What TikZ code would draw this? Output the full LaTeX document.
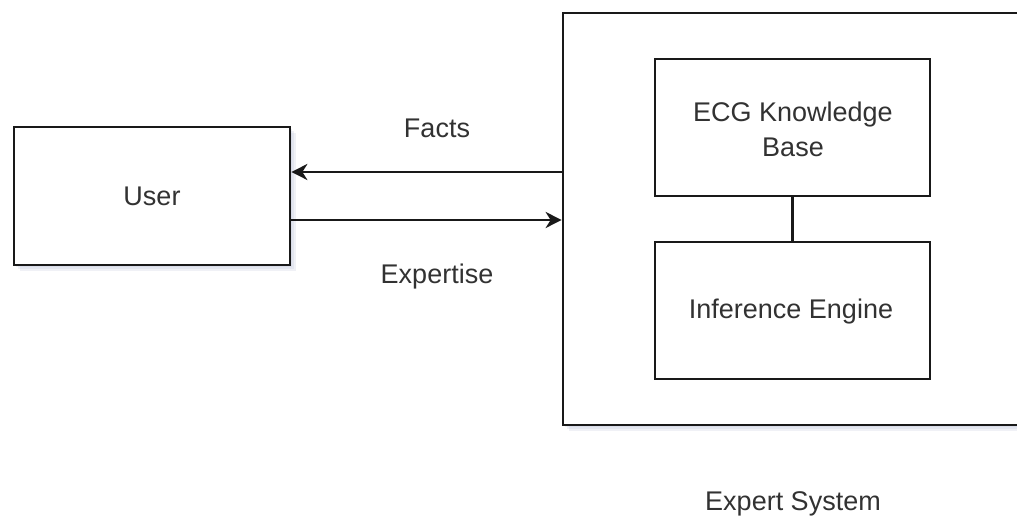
\documentclass[tikz,border=0pt]{standalone}
\usepackage{fontspec}
\setmainfont{Liberation Sans}
\usetikzlibrary{arrows.meta}
\definecolor{shadecol}{RGB}{170,178,205}
\definecolor{linecol}{RGB}{25,25,25}
\definecolor{txtcol}{RGB}{50,50,50}
\begin{document}
\begin{tikzpicture}[x=0.5pt,y=-0.5pt,
  box/.style={draw=linecol, line width=1.35pt, fill=white, inner sep=0pt, rectangle},
  lbl/.style={font=\fontsize{13.5}{17.5}\selectfont, text=txtcol, align=center},
  conn/.style={draw=linecol, line width=1.35pt},
  arr/.style={conn, -{Stealth[length=8pt,width=8pt,inset=2.5pt]}},
  shd/.style={fill=shadecol, opacity=0.18}]
\useasboundingbox (0,0) rectangle (1017,517);
\clip (0,0) rectangle (1017,517);
% shadows
\foreach \d in {2,4,6} {
  \fill[shd] (14+\d,127+\d) rectangle (290+\d,265+\d);
  \fill[shd] (563+\d,13+\d) rectangle (1060,425+\d);
}
% boxes
\node[box, minimum width=138pt, minimum height=69pt] (user) at (152,196) {};
\node[lbl] (usert) at (152,196) {User};
\node[box, minimum width=250pt, minimum height=206pt] (outer) at (813,219) {};
\node[box, minimum width=137.5pt, minimum height=68.5pt] (kb) at (792.5,127.5) {};
\node[lbl] (kbt) at (793,129) {ECG Knowledge\\Base};
\node[box, minimum width=137.5pt, minimum height=68.5pt] (ie) at (792.5,310.5) {};
\node[lbl] (iet) at (791,312) {Inference Engine};
\draw[conn] (kb.south) -- (ie.north);
% arrows
\coordinate (fy) at (0,172);
\coordinate (ey) at (0,220);
\draw[arr] (outer.west |- fy) -- (user.east |- fy);
\draw[arr] (user.east |- ey) -- (outer.west |- ey);
\node[lbl] (facts) at (437,128) {Facts};
\node[lbl] (exp) at (437,277) {Expertise};
\node[lbl] (es) at (793,504) {Expert System};
\end{tikzpicture}
\end{document}
